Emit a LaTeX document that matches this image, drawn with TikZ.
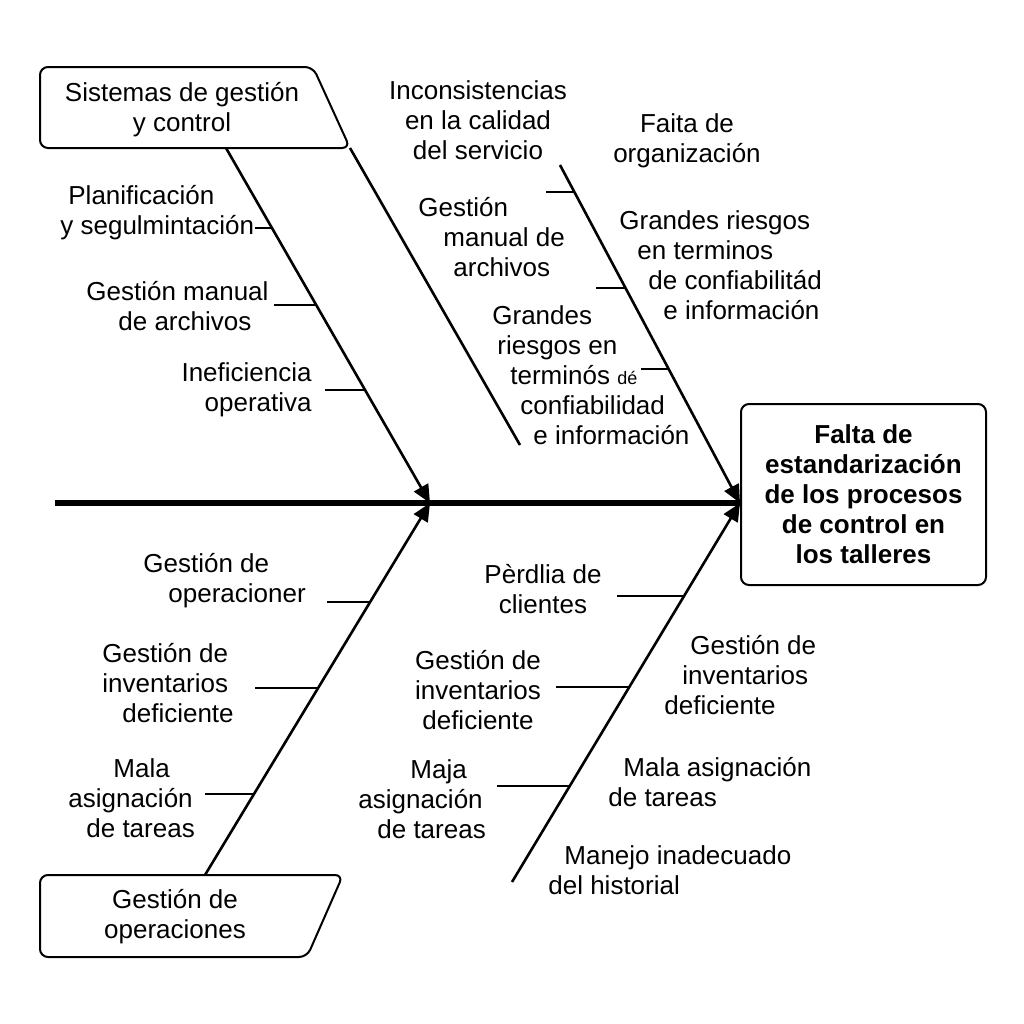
\documentclass[tikz,border=0pt]{standalone}
\usepackage{fontspec}
\setmainfont{Liberation Sans}
\usetikzlibrary{arrows.meta,positioning,calc}
\tikzset{
  lbl/.style={font=\fontsize{13}{15}\selectfont, align=center, inner sep=0pt},
  lblw/.style={lbl, align=left, anchor=west},
  bone/.style={line width=1.3pt},
  spine/.style={line width=3pt},
  tick/.style={line width=1.3pt},
  head/.style={-{Triangle[length=9pt,width=8pt]}},
  catbox/.style={rounded corners=4pt, line width=1pt},
}
\newcommand{\ind}[1]{\hspace*{#1pt}}

\begin{document}
\begin{tikzpicture}[x=0.5pt,y=-0.5pt]
        \useasboundingbox (0,0) rectangle (1024,1024);
        \coordinate (tail) at (55,503);
        \coordinate (j1) at (430,503);
        \coordinate (j2) at (740,503);
        \coordinate (c1) at (226,148);
        \coordinate (c1r) at (350,148);
        \coordinate (c1e) at (520,445);
        \coordinate (c2) at (560,165);
        \coordinate (c3) at (205,875);
        \coordinate (c4) at (512,882);
        \node[draw, catbox, lbl, font=\bfseries\fontsize{13}{15}\selectfont, minimum width=122.5pt, minimum height=90.5pt] (eff) at (863.5,494.5) {Falta de\\estandarización\\de los procesos\\de control en\\los talleres};
        \draw[catbox] (40,67) -- (313,67) -- (350,148) -- (40,148) -- cycle;
        \node[lbl] (sgc) at (182,110) {Sistemas de gestión\\y control};
        \draw[catbox] (40,875) -- (343,875) -- (307,957) -- (40,957) -- cycle;
        \node[lbl] (gdo) at (175,917) {Gestión de\\operaciones};
        \draw[spine] (tail) -- (j2);
        \draw[bone,head] (c1) -- (j1);
        \draw[bone] (c1r) -- (c1e);
        \draw[bone,head] (c2) -- (j2);
        \draw[bone,head] (c3) -- (j1);
        \draw[bone,head] (c4) -- (j2);
        \draw[tick] ($(c1)!0.225!(j1)$) -- ++(-17,0);
        \draw[tick] ($(c1)!0.442!(j1)$) -- ++(-42,0);
        \draw[tick] ($(c1)!0.682!(j1)$) -- ++(-40,0);
        \draw[tick] ($(c2)!0.080!(j2)$) -- ++(-28,0);
        \draw[tick] ($(c2)!0.364!(j2)$) -- ++(-30,0);
        \draw[tick] ($(c2)!0.604!(j2)$) -- ++(-28,0);
        \draw[tick] ($(c3)!0.734!(j1)$) -- ++(-43,0);
        \draw[tick] ($(c3)!0.503!(j1)$) -- ++(-63,0);
        \draw[tick] ($(c3)!0.218!(j1)$) -- ++(-49,0);
        \draw[tick] ($(c4)!0.755!(j2)$) -- ++(-67,0);
        \draw[tick] ($(c4)!0.515!(j2)$) -- ++(-73,0);
        \draw[tick] ($(c4)!0.253!(j2)$) -- ++(-73,0);
        \node[lblw] (pys) at (60,213) {\ind{4}Planificación\\y segulmintación};
        \node[lblw] (gma) at (86,306) {Gestión manual\\\ind{16}de archivos};
        \node[lbl, align=right, anchor=east] (ino) at (312,390) {Ineficiencia\\operativa};
        \node[lbl] (ics) at (478,120) {Inconsistencias\\en la calidad\\del servicio};
        \node[lbl] (fdo) at (687,141) {Faita de\\organización};
        \node[lblw] (gmd) at (418,237) {Gestión\\\ind{12.5}manual de\\\ind{17.5}archivos};
        \node[lblw] (grt) at (619,265) {Grandes riesgos\\\ind{9}en terminos\\\ind{14.5}de confiabilitád\\\ind{22}e información};
        \node[lblw] (grc) at (492,375) {Grandes\\\ind{2.5}riesgos en\\\ind{9}terminós {\small dé}\\\ind{14}confiabilidad\\\ind{20.5}e información};
        \node[lblw] (gop) at (143,581) {Gestión de\\\ind{12.5}operacioner};
        \node[lblw] (gid) at (102,683) {Gestión de\\inventarios\\\ind{10}deficiente};
        \node[lblw] (mat) at (68,798) {\ind{22.5}Mala\\asignación\\\ind{9}de tareas};
        \node[lbl] (pdc) at (543,589) {Pèrdlia de\\clientes};
        \node[lbl] (gid2) at (478,690) {Gestión de\\inventarios\\deficiente};
        \node[lblw] (gid3) at (664,675) {\ind{13}Gestión de\\\ind{9}inventarios\\deficiente};
        \node[lblw] (maj) at (358,799) {\ind{26}Maja\\asignación\\\ind{9.5}de tareas};
        \node[lblw] (mat2) at (608,782) {\ind{7.5}Mala asignación\\de tareas};
        \node[lblw] (mih) at (548,870) {\ind{8}Manejo inadecuado\\del historial};
      \end{tikzpicture}
\end{document}
